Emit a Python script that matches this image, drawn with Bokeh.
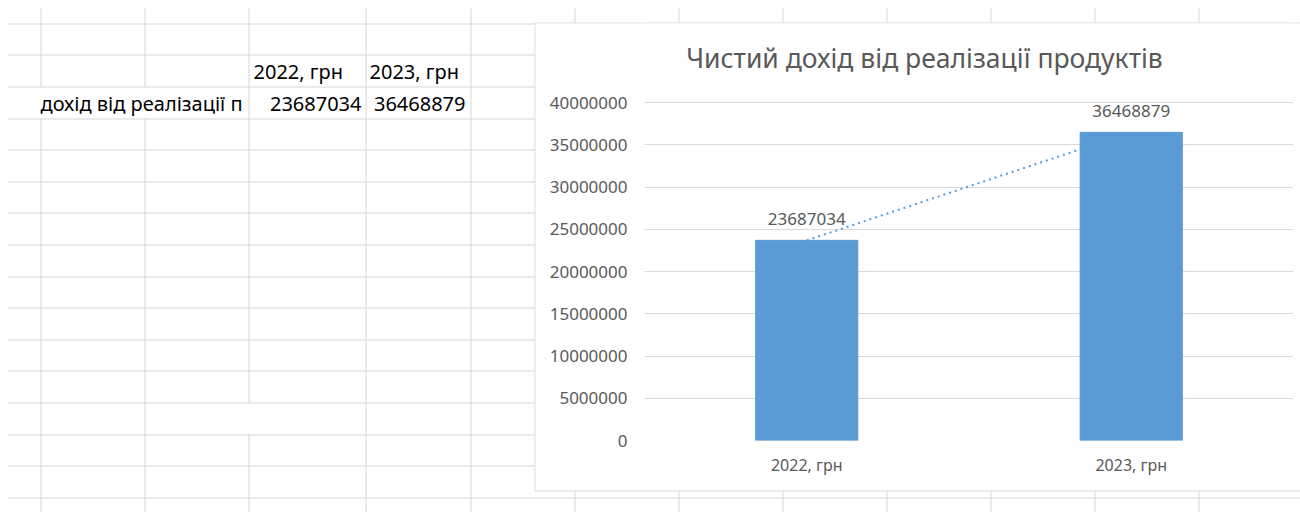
from bokeh.plotting import figure
from bokeh.models import (FactorRange, Range1d, FixedTicker, LabelSet, Label, ColumnDataSource)
from bokeh.core.properties import value
from bokeh.embed import file_html
from bokeh.resources import INLINE

# ---- data ----
categories = ["2022, грн", "2023, грн"]
revenue = [23687034, 36468879]
revenue_labels = ["23687034", "36468879"]
title_text = "Чистий дохід від реалізації продуктів"
row_label = "дохід від реалізації п"
y_ticks = [0, 5000000, 10000000, 15000000, 20000000, 25000000, 30000000, 35000000, 40000000]
y_tick_labels = ["0", "5000000", "10000000", "15000000", "20000000", "25000000",
                 "30000000", "35000000", "40000000"]

# ---- styles / layout constants (page pixels) ----
BAR = "#5b9bd5"
TXT = "#595959"
CGRID = "#d9d9d9"
SGRID = "#d6d6d6"
FONT = "Noto Sans"
PW, PH = 1300, 512
BOX_L, BOX_T, BOX_B = 534, 22, 490            # chart box on the page
FL, FR, FB, FTOP40 = 644, 1293, 440, 102      # chart frame left/right, y of 0 and of 40M
row_lines = [round(22.7 + 31.6 * k) + 0.5 for k in range(16)]
col_lines = [40.5, 144.5, 248.5, 365.5, 470.5, 574.5, 678.5, 782.5, 886.5, 990.5, 1094.5, 1198.5]
gaps = {40.5: [(86, 117.5)], 144.5: [(86, 117.5)], 248.5: [(402.5, 433.5)]}

# ---- background: spreadsheet grid + chart box ----
bg = figure(width=PW, height=PH, x_range=Range1d(0, PW), y_range=Range1d(PH, 0),
            x_axis_type=None, y_axis_type=None, output_backend="svg", toolbar_location=None,
            min_border=0, title=None)
bg.outline_line_color = None
bg.background_fill_color = "white"
bg.border_fill_color = "white"

segs = [(8, y, PW, y) for y in row_lines]
for x in col_lines:
    start = 8
    for g0, g1 in gaps.get(x, []):
        segs.append((x, start, x, g0))
        start = g1
    segs.append((x, start, x, PH))
bg.segment(x0=[s[0] for s in segs], y0=[s[1] for s in segs],
           x1=[s[2] for s in segs], y1=[s[3] for s in segs], line_color=SGRID, line_width=1)
bg.quad(left=[BOX_L + 0.5], right=[PW + 20], top=[BOX_T + 0.5], bottom=[BOX_B + 0.5],
        fill_color="white", line_color=CGRID, line_width=1)

bg.text(x=[253, 369], y=[71, 71], text=categories, text_font=value(FONT),
        text_font_size="20px", text_color="black", text_baseline="middle", text_align="left")
bg.text(x=[40], y=[103], text=[row_label], text_font=value(FONT),
        text_font_size="20px", text_color="black", text_baseline="middle", text_align="left")
bg.text(x=[361, 465], y=[103, 103], text=revenue_labels, text_font=value(FONT),
        text_font_size="20px", text_color="black", text_baseline="middle", text_align="right")

# ---- chart, laid over the box ----
CX0, CY0 = BOX_L + 1, BOX_T + 1
y_top = 40000000 * (FB - CY0) / (FB - FTOP40)
p = figure(width=PW - CX0, height=BOX_B - CY0, x_range=FactorRange(*categories),
           y_range=Range1d(0, y_top), output_backend="svg", toolbar_location=None, title=None,
           min_border_left=FL - CX0, min_border_right=PW - FR, min_border_top=0,
           min_border_bottom=BOX_B - FB)
p.styles = {"position": "absolute", "left": f"{CX0}px", "top": f"{CY0}px"}
p.outline_line_color = None
p.background_fill_color = "white"
p.border_fill_color = "white"
p.extra_y_ranges = {"px": Range1d(start=FB, end=CY0)}

def cx(X):
    return (X - FL) / ((FR - FL) / len(categories))

p.add_layout(Label(x=cx(924), y=57, y_range_name="px", text=title_text, text_font=FONT,
                   text_font_size="26.5px", text_color=TXT, text_align="center",
                   text_baseline="middle"))

src = ColumnDataSource(dict(cat=categories, val=revenue, lab=revenue_labels))
p.line(x="cat", y="val", source=src, line_color=BAR, line_width=2, line_dash="2 4")
p.vbar(x="cat", top="val", width=0.315, source=src, fill_color=BAR, line_color=BAR)
p.add_layout(LabelSet(x="cat", y="val", text="lab", source=src, y_offset=21,
                      text_align="center", text_baseline="middle", text_font=value(FONT),
                      text_font_size=value("17px"), text_color=TXT))

p.yaxis.ticker = FixedTicker(ticks=y_ticks)
p.yaxis.major_label_overrides = {t: l for t, l in zip(y_ticks, y_tick_labels)}
for ax in (p.xaxis[0], p.yaxis[0]):
    ax.axis_line_color = None
    ax.major_tick_line_color = None
    ax.minor_tick_line_color = None
    ax.major_label_text_font = FONT
    ax.major_label_text_color = TXT
p.yaxis.major_label_text_font_size = "17px"
p.yaxis.major_label_standoff = 11
p.xaxis.major_label_text_font_size = "16px"
p.xaxis.major_label_standoff = 7
p.xgrid.grid_line_color = None
p.ygrid.grid_line_color = CGRID
p.ygrid.grid_line_width = 1

open("out.html", "w").write(file_html([bg, p], INLINE))
